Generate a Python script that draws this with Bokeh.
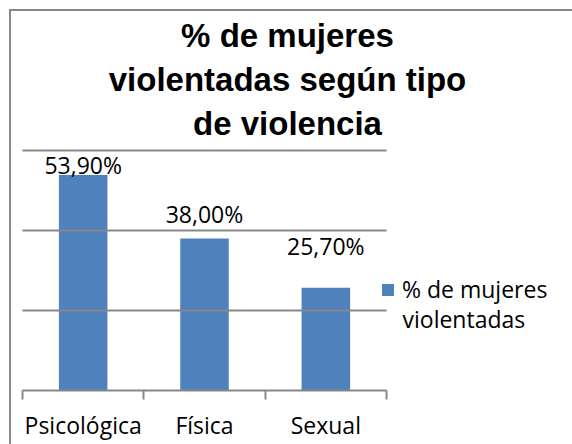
from bokeh.plotting import figure
from bokeh.models import (Range1d, FixedTicker, Label, Legend, LegendItem,
                          ColumnDataSource, InlineStyleSheet)
from bokeh.core.properties import value
from bokeh.embed import file_html
from bokeh.resources import INLINE

categories = ["Psicológica", "Física", "Sexual"]
values = [53.9, 38.0, 25.7]
value_labels = ["53,90%", "38,00%", "25,70%"]
series_name = "% de mujeres violentadas"
title_lines = ["% de mujeres", "violentadas según tipo", "de violencia"]
y_ticks = [20, 40, 60]
y_max = 60

GRAY = "#878787"
BLUE = "#4F81BD"
FONT = "Open Sans"

# layout (canvas pixels)
W, H = 572, 444
BOTTOM = 54
PLOT_L, PLOT_R, PLOT_T = 22, 386, 150
n = len(categories)
fb = H - BOTTOM
xu = (PLOT_R - PLOT_L) / n
yu = (fb - PLOT_T) / y_max

xs = [i + 0.5 for i in range(n)]
src = ColumnDataSource(dict(x=xs, top=values, label=value_labels,
                            off=[-10, -25, -42]))

p = figure(width=W, height=H, output_backend="svg", toolbar_location=None,
           x_range=Range1d(-PLOT_L / xu, n + (W - PLOT_R) / xu),
           y_range=Range1d(0, y_max + PLOT_T / yu),
           min_border_left=0, min_border_right=0, min_border_top=0,
           min_border_bottom=BOTTOM, outline_line_color=None)
p.stylesheets = [InlineStyleSheet(css=(
    ":host { position: relative; }"
    ":host::after { content: ''; position: absolute; left: 9px; top: 9px; "
    "right: 0; bottom: 0; border-left: 2px solid " + GRAY + "; "
    "border-top: 2px solid " + GRAY + "; pointer-events: none; }"))]

bars = p.vbar(x="x", top="top", width=0.4, bottom=0, source=src,
              fill_color=BLUE, line_color=None)
p.segment(x0=[0] * len(y_ticks), x1=[n] * len(y_ticks), y0=y_ticks, y1=y_ticks,
          line_color=GRAY, line_width=2)
p.text(x="x", y="top", text="label", y_offset="off", source=src,
       text_align="center", text_baseline="alphabetic",
       text_font=value(FONT), text_font_size="23px", text_color="black")

p.yaxis.visible = False
p.xgrid.visible = False
p.ygrid.visible = False

ax = p.xaxis[0]
ax.bounds = (0, n)
ax.ticker = FixedTicker(ticks=xs, minor_ticks=list(range(n + 1)))
ax.major_label_overrides = {x: c for x, c in zip(xs, categories)}
ax.axis_line_color = GRAY
ax.axis_line_width = 2
ax.major_tick_line_color = None
ax.major_tick_out = 0
ax.major_tick_in = 0
ax.minor_tick_line_color = GRAY
ax.minor_tick_line_width = 2
ax.minor_tick_in = 0
ax.minor_tick_out = 9
ax.major_label_standoff = 9
ax.major_label_text_line_height = 1.0
ax.major_label_text_font = FONT
ax.major_label_text_font_size = "23px"
ax.major_label_text_color = "black"

for line, y in zip(title_lines, [355, 311, 267]):
    p.add_layout(Label(x=287, y=y, x_units="screen", y_units="screen", text=line,
                       text_align="center", text_baseline="alphabetic",
                       text_font="Liberation Sans", text_font_style="bold",
                       text_font_size="33px", text_color="black"))

name_first, name_rest = series_name.rsplit(" ", 1)
legend = Legend(items=[LegendItem(label=name_first, renderers=[bars])],
                location=(380, 85), padding=0, margin=0, spacing=0,
                border_line_color=None, background_fill_alpha=0,
                glyph_width=15, glyph_height=15, label_standoff=7,
                label_text_font=FONT, label_text_font_size="23px",
                label_text_color="black")
p.add_layout(legend, "center")
p.add_layout(Label(x=402, y=72, x_units="screen", y_units="screen", text=name_rest,
                   text_align="left", text_baseline="alphabetic",
                   text_font=FONT, text_font_size="23px", text_color="black"))

open("out.html", "w").write(file_html(p, INLINE))
